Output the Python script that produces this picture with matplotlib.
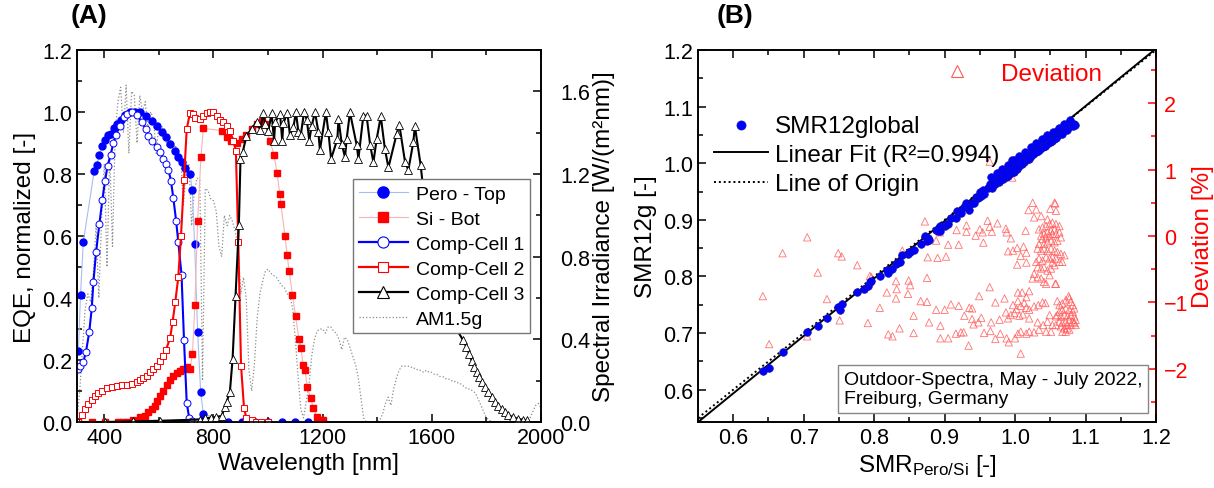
import matplotlib.pyplot as plt
from matplotlib.ticker import MultipleLocator
from matplotlib.lines import Line2D

plt.rcParams["font.family"] = ["Liberation Sans", "DejaVu Sans"]
plt.rcParams["mathtext.default"] = "regular"
plt.rcParams["font.size"] = 15.5

# ---------------- panel A data ----------------
pero_wl = [305, 313, 323, 363, 372, 382, 392, 403, 415, 426, 437, 448, 460, 476, 494,
           512, 531, 553, 574, 592, 610, 626, 641, 659, 671, 683, 696, 714, 722, 731,
           742, 753, 763, 854, 903, 952, 1001, 1050, 1099, 1147, 1200]
pero_eqe = [0.23, 0.41, 0.58, 0.81, 0.83, 0.86, 0.89, 0.91, 0.925, 0.93, 0.95, 0.96, 0.975, 0.99, 1.0,
            1.0, 1.0, 0.986, 0.972, 0.956, 0.935, 0.918, 0.897, 0.875, 0.854, 0.838, 0.818, 0.80, 0.75, 0.573,
            0.29, 0.098, 0.026, 0.0, 0.0, 0.0, 0.0, 0.0, 0.0, 0.0, 0.0]

si_wl = [305, 354, 403, 451, 470, 488, 506, 531, 549, 561, 574, 586, 594, 604, 616, 628, 641, 653,
         665, 677, 690, 702, 714, 723, 732, 742, 754, 763, 830, 848, 866, 885, 903, 921, 940, 958,
         976, 989, 1007, 1022, 1033, 1043, 1047, 1062, 1070, 1077, 1089, 1101, 1113, 1120, 1129,
         1135, 1144, 1156, 1166, 1178, 1190, 1202]
si_eqe = [0.0, 0.0, 0.0, 0.0, 0.0, 0.0, 0.008, 0.015, 0.02, 0.031, 0.042, 0.053, 0.069, 0.085, 0.101,
          0.12, 0.137, 0.148, 0.159, 0.166, 0.171, 0.177, 0.171, 0.22, 0.378, 0.65, 0.854, 0.947, 0.94,
          0.918, 0.905, 0.9, 0.913, 0.926, 0.945, 0.961, 0.972, 0.96, 0.907, 0.861, 0.803, 0.736, 0.703,
          0.6, 0.539, 0.488, 0.411, 0.341, 0.268, 0.238, 0.184, 0.169, 0.112, 0.077, 0.045, 0.016,
          0.008, 0.005]

cc1_wl = [303, 311, 323, 333, 345, 354, 360, 370, 382, 393, 403, 412, 423, 433, 442, 458, 472, 482,
          500, 521, 537, 553, 561, 574, 592, 604, 616, 626, 635, 644, 653, 663, 671, 683, 692, 702,
          711, 720, 740, 760]
cc1_eqe = [0.17, 0.182, 0.193, 0.227, 0.291, 0.367, 0.451, 0.549, 0.639, 0.717, 0.779, 0.827, 0.861,
           0.899, 0.926, 0.956, 0.983, 0.994, 1.0, 0.99, 0.967, 0.945, 0.924, 0.908, 0.886, 0.87, 0.85,
           0.832, 0.814, 0.779, 0.722, 0.65, 0.582, 0.475, 0.265, 0.062, 0.013, 0.004, 0.0, 0.0]

cc2_wl = [305, 317, 329, 341, 354, 366, 378, 390, 409, 427, 445, 464, 482, 500, 519, 531, 543, 555,
          567, 580, 592, 604, 616, 626, 641, 650, 660, 671, 681, 692, 702, 714, 724, 732, 751, 763,
          775, 787, 799, 812, 824, 836, 848, 860, 873, 882, 891, 901, 912, 921, 940, 955, 975, 1000]
cc2_eqe = [0.0, 0.021, 0.042, 0.058, 0.072, 0.085, 0.094, 0.101, 0.109, 0.112, 0.115, 0.118, 0.12,
           0.123, 0.128, 0.134, 0.141, 0.15, 0.16, 0.171, 0.182, 0.198, 0.212, 0.233, 0.27, 0.322,
           0.386, 0.467, 0.6, 0.782, 0.945, 0.997, 0.994, 0.98, 0.977, 0.986, 0.997, 1.0, 0.999,
           0.988, 0.975, 0.967, 0.956, 0.94, 0.907, 0.875, 0.58, 0.182, 0.044, 0.012, 0.005, 0.0,
           0.0, 0.0]

cc3_wl = [305, 404, 506, 604, 750, 770, 790, 810, 830, 842, 848, 860, 870, 881, 893, 899, 907, 921,
          940, 958, 971, 983, 989, 1001, 1013, 1022, 1026, 1044, 1052, 1056, 1071, 1080, 1093, 1102,
          1111, 1120, 1132, 1142, 1151, 1160, 1172, 1184, 1190, 1212, 1221, 1231, 1254, 1258, 1270,
          1282, 1288, 1300, 1325, 1331, 1349, 1361, 1374, 1386, 1398, 1413, 1428, 1441, 1471, 1481,
          1502, 1514, 1532, 1538, 1559, 1575, 1600, 1630, 1660, 1690, 1715, 1727, 1737, 1746, 1755,
          1764, 1774, 1783, 1795, 1807, 1819, 1831, 1844, 1856, 1868, 1880, 1898, 1917, 1935, 1947]
cc3_eqe = [0.0, 0.0, 0.002, 0.004, 0.008, 0.012, 0.014, 0.016, 0.02, 0.048, 0.064, 0.096, 0.203,
           0.408, 0.634, 0.848, 0.87, 0.924, 0.945, 0.969, 0.943, 0.997, 0.961, 0.939, 0.996, 0.908,
           0.967, 0.994, 0.906, 0.964, 0.997, 0.927, 0.951, 1.0, 0.937, 0.927, 1.0, 0.975, 0.908,
           0.956, 1.0, 0.937, 0.878, 1.0, 0.935, 0.849, 0.913, 0.978, 0.897, 0.854, 0.913, 0.999,
           0.892, 0.849, 0.988, 0.988, 0.894, 0.838, 0.913, 0.986, 0.881, 0.821, 0.929, 0.958, 0.838,
           0.813, 0.902, 0.954, 0.829, 0.70, 0.52, 0.42, 0.35, 0.30, 0.263, 0.241, 0.22, 0.198, 0.177,
           0.16, 0.144, 0.128, 0.112, 0.096, 0.08, 0.066, 0.053, 0.042, 0.031, 0.023, 0.015, 0.01,
           0.007, 0.005]

# AM1.5g spectral irradiance [W/(m2 nm)], 300..2000 nm in 10 nm steps
am_wl = list(range(300, 2001, 10))
am_irr = [
    0.01, 0.15, 0.35, 0.55, 0.62, 0.58, 0.72, 0.95, 0.60, 0.98,   # 300
    1.25, 0.75, 1.30, 0.85, 1.40, 1.55, 1.62, 1.40, 1.63, 1.30,   # 400
    1.60, 1.58, 1.35, 1.58, 1.50, 1.55, 1.42, 1.50, 1.47, 1.30,   # 500
    1.45, 1.43, 1.42, 1.33, 1.38, 1.30, 1.34, 1.30, 1.28, 1.05,   # 600
    1.22, 1.25, 0.95, 1.12, 1.18, 1.17, 0.20, 1.13, 1.12, 1.08,   # 700
    1.07, 1.02, 0.85, 0.80, 1.00, 0.95, 1.00, 0.97, 0.92, 0.85,   # 800
    0.62, 0.70, 0.60, 0.25, 0.15, 0.28, 0.50, 0.62, 0.68, 0.73,   # 900
    0.74, 0.72, 0.71, 0.70, 0.68, 0.66, 0.65, 0.62, 0.61, 0.55,   # 1000
    0.40, 0.22, 0.06, 0.02, 0.10, 0.18, 0.32, 0.40, 0.44, 0.45,   # 1100
    0.45, 0.43, 0.46, 0.46, 0.44, 0.43, 0.40, 0.35, 0.41, 0.40,   # 1200
    0.36, 0.32, 0.28, 0.22, 0.12, 0.02, 0.0, 0.0, 0.0, 0.0,       # 1300
    0.0, 0.01, 0.04, 0.09, 0.12, 0.08, 0.16, 0.21, 0.25, 0.27,    # 1400
    0.27, 0.27, 0.27, 0.26, 0.26, 0.25, 0.25, 0.24, 0.25, 0.24,   # 1500
    0.24, 0.23, 0.23, 0.22, 0.22, 0.21, 0.21, 0.20, 0.20, 0.19,   # 1600
    0.19, 0.18, 0.17, 0.16, 0.16, 0.15, 0.14, 0.11, 0.08, 0.05,   # 1700
    0.02, 0.01, 0.0, 0.0, 0.0, 0.0, 0.0, 0.0, 0.0, 0.0,           # 1800
    0.0, 0.0, 0.0, 0.0, 0.0, 0.0, 0.02, 0.05, 0.08, 0.09,         # 1900
    0.07]                                                          # 2000

# ---------------- panel B data ----------------
smr_x = [0.642, 0.651, 0.670, 0.705, 0.720, 0.733, 0.749, 0.751, 0.754, 0.776, 0.785, 0.791, 0.794,
         0.796, 0.808, 0.818, 0.820, 0.826, 0.831, 0.832, 0.836, 0.840, 0.848, 0.849, 0.851, 0.856,
         0.866, 0.872, 0.875, 0.876, 0.878, 0.888, 0.890, 0.893, 0.894, 0.900, 0.902, 0.905, 0.909,
         0.916, 0.917, 0.920, 0.923, 0.928, 0.931, 0.934, 0.935, 0.939, 0.941, 0.944, 0.948, 0.949,
         0.950, 0.952, 0.954, 0.956, 0.962, 0.965, 0.967, 0.970, 0.972, 0.975, 0.977, 0.979, 0.981,
         0.983, 0.985, 0.987, 0.988, 0.990, 0.992, 0.994, 0.996, 0.997, 0.999, 1.001, 1.003, 1.004,
         1.006, 1.008, 1.010, 1.011, 1.013, 1.015, 1.016, 1.018, 1.020, 1.021, 1.023, 1.025, 1.026,
         1.028, 1.030, 1.031, 1.033, 1.034, 1.036, 1.038, 1.039, 1.041, 1.043, 1.044, 1.046, 1.047,
         1.049, 1.050, 1.052, 1.054, 1.055, 1.057, 1.058, 1.060, 1.061, 1.063, 1.064, 1.066, 1.067,
         1.069, 1.070, 1.072, 1.074, 1.076, 1.078, 1.080, 1.082, 1.084, 1.085,
         0.966, 0.974, 0.982, 0.990, 0.998, 1.006, 1.014, 1.022, 1.030, 1.038, 1.046, 1.054, 1.062,
         1.070, 1.078,
         0.970, 0.978, 0.986, 0.994, 1.002, 1.010, 1.018, 1.026, 1.034, 1.042, 1.050, 1.058, 1.066,
         1.074, 1.082]
smr12g = [0.633, 0.638, 0.666, 0.702, 0.713, 0.726, 0.746, 0.741, 0.751, 0.772, 0.778, 0.784, 0.790,
          0.792, 0.800, 0.811, 0.806, 0.813, 0.822, 0.824, 0.825, 0.838, 0.840, 0.843, 0.844, 0.846,
          0.857, 0.872, 0.862, 0.868, 0.865, 0.882, 0.881, 0.890, 0.880, 0.890, 0.893, 0.893, 0.903,
          0.904, 0.916, 0.914, 0.912, 0.922, 0.930, 0.918, 0.926, 0.930, 0.929, 0.940, 0.938, 0.940,
          0.950, 0.943, 0.952, 0.945, 0.957, 0.963, 0.956, 0.968, 0.963, 0.972, 0.966, 0.970, 0.978,
          0.972, 0.980, 0.975, 0.984, 0.978, 0.987, 0.982, 1.005, 0.990, 0.985, 0.996, 0.990, 1.000,
          0.995, 1.004, 0.998, 1.008, 1.002, 1.012, 1.005, 1.015, 1.008, 1.020, 1.013, 1.024, 1.016,
          1.027, 1.019, 1.030, 1.022, 1.033, 1.025, 1.036, 1.029, 1.039, 1.031, 1.042, 1.034, 1.045,
          1.037, 1.047, 1.040, 1.050, 1.043, 1.053, 1.046, 1.057, 1.050, 1.060, 1.053, 1.062, 1.056,
          1.064, 1.058, 1.066, 1.062, 1.068, 1.065, 1.070, 1.067, 1.070, 1.068,
          0.975, 0.982, 0.990, 0.997, 1.005, 1.013, 1.020, 1.028, 1.035, 1.043, 1.049, 1.056, 1.062,
          1.069, 1.076,
          0.963, 0.971, 0.979, 0.986, 0.994, 1.001, 1.009, 1.016, 1.024, 1.031, 1.038, 1.044, 1.051,
          1.058, 1.065]

fit_slope = 1.015
fit_intercept = -0.0155

dev_x = [0.642, 0.651, 0.670, 0.705, 0.705, 0.720, 0.733, 0.749, 0.754, 0.751, 0.776, 0.785, 0.794,
         0.796, 0.791, 0.808, 0.818, 0.820, 0.826, 0.831, 0.832, 0.831, 0.836, 0.840, 0.849, 0.851,
         0.848, 0.856, 0.856, 0.866, 0.875, 0.872, 0.876, 0.875, 0.878,
         0.893, 0.888, 0.905, 0.920, 0.890, 0.902, 0.917, 0.931, 0.931, 0.944, 0.950, 0.961, 0.964,
         0.954, 0.967, 0.975, 0.955, 0.987, 0.988, 0.994, 1.015, 0.990, 0.997, 1.003, 1.012, 1.016,
         1.008, 1.003, 1.016, 1.025, 1.019, 1.030, 1.027, 1.037, 1.046, 1.050, 1.057, 1.058, 0.964,
         0.997, 0.996, 1.056,
         1.034, 1.039, 1.044, 1.049, 1.053, 1.058, 1.063, 1.056, 1.051, 1.046, 1.041, 1.037, 1.039,
         1.044, 1.049, 1.053, 1.058, 1.063, 1.065, 1.060, 1.056, 1.051, 1.046, 1.041, 1.034, 1.032,
         1.037, 1.041, 1.046, 1.051, 1.056, 1.060, 1.065, 1.070, 1.067, 1.063, 1.058, 1.053, 1.049,
         1.044, 1.039, 1.034, 1.030, 1.032, 1.037, 1.041, 1.046, 1.051, 1.056, 1.027, 1.032, 1.025,
         1.037, 1.041, 1.044, 1.058, 1.049, 1.053,
         0.964, 0.949, 0.888, 0.900, 0.909, 0.920, 0.935, 0.939, 0.894, 0.894, 0.905, 0.916, 0.923,
         0.927, 0.928, 0.939, 0.941, 0.948, 0.952, 0.934, 0.956, 0.965, 0.966, 0.972, 0.978, 0.972,
         0.979, 0.985, 0.987, 0.994, 0.991, 0.988, 1.000, 1.004, 1.008, 1.016, 1.020, 1.027, 1.008,
         0.997, 1.004, 1.002, 1.008, 1.013, 1.016, 1.020, 1.027, 1.033, 1.039, 1.043, 1.004, 1.010,
         1.016, 1.020, 1.006, 0.990, 0.999, 1.011, 1.020, 1.032, 1.040, 1.046, 1.053, 1.051, 1.049,
         1.034, 1.044, 1.058, 1.076, 1.060, 1.074, 1.057,
         1.063, 1.067, 1.072, 1.077, 1.079, 1.082, 1.084, 1.082, 1.077, 1.072, 1.067, 1.063, 1.060,
         1.065, 1.070, 1.074, 1.079, 1.084, 1.086, 1.082, 1.077, 1.072, 1.067, 1.063, 1.058, 1.065,
         1.070, 1.074, 1.079, 1.084, 1.086, 1.077, 1.072, 1.067]
dev_y = [-0.905, -1.627, -0.259, -0.02, -1.51, -0.55, -0.95, -0.259, -0.308, -1.27, -0.44, -0.80, -0.60,
         -0.62, -1.31, -1.08, -0.85, -1.48, -1.51, -0.68, -0.80, -0.94, -1.39, -0.22, -0.67, -0.74,
         -0.87, -1.20, -1.46, -0.98, -0.99, 0.22, -0.32, -0.63, -1.30,
         0.055, -0.07, -0.13, -0.13, -0.33, -0.31, 0.09, 0.16, 0.065, 0.005, 0.10, 0.23, 0.14,
         0.055, 0.065, 0.19, -0.10, 0.11, 0.055, -0.035, 0.08, -0.23, -0.22, -0.18, -0.16, -0.25,
         -0.30, -0.43, -0.40, 0.50, 0.39, 0.40, 0.28, 0.30, 0.25, 0.41, 0.49, 0.38, 1.12,
         0.97, 0.88, 0.50,
         0.10, 0.13, 0.15, 0.18, 0.20, 0.18, 0.15, 0.10, 0.08, 0.055, 0.03, 0.005, -0.045,
         -0.02, 0.005, 0.03, 0.03, 0.055, -0.02, -0.07, -0.095, -0.07, -0.095, -0.12, -0.12, -0.19,
         -0.22, -0.19, -0.22, -0.19, -0.22, -0.24, -0.27, -0.29, -0.39, -0.39, -0.34, -0.32, -0.34,
         -0.32, -0.37, -0.34, -0.39, -0.47, -0.49, -0.47, -0.52, -0.49, -0.44, -0.57, -0.62, -0.64,
         -0.64, -0.69, -0.72, -0.72, -0.59, -0.40,
         -0.77, -0.905, -1.11, -1.11, -1.03, -1.05, -1.08, -1.09, -1.35, -1.54, -1.54, -1.47, -1.45,
         -1.45, -1.20, -1.25, -1.33, -1.30, -1.23, -1.65, -1.46, -1.43, -1.30, -1.00, -1.26, -1.55,
         -1.47, -0.94, -1.15, -1.19, -1.60, -1.54, -1.54, -1.47, -1.44, -1.47, -1.44, -1.45, -1.77,
         -1.04, -0.98, -1.10, -1.05, -1.01, -1.08, -1.11, -1.06, -1.04, -1.00, -1.01, -0.85, -0.85,
         -0.92, -0.83, -1.20, -1.24, -1.16, -1.18, -1.24, -1.30, -1.34, -1.29, -1.34, -1.44, -1.19,
         -1.41, -1.44, -1.21, -0.905, -0.98, -1.39, -0.72,
         -1.04, -1.015, -0.965, -0.94, -0.99, -1.04, -1.09, -1.14, -1.11, -1.09, -1.11, -1.14, -1.19,
         -1.21, -1.19, -1.21, -1.19, -1.21, -1.26, -1.29, -1.26, -1.29, -1.31, -1.29, -1.34, -1.36,
         -1.39, -1.34, -1.34, -1.31, -1.34, -1.41, -1.44, -1.44]

W, H = 1214, 489
fig = plt.figure(figsize=(W / 100, H / 100), dpi=100)


def style_ticks(ax, **kw):
    ax.tick_params(which="both", direction="in", width=1.1, **kw)
    ax.tick_params(which="major", length=6)
    ax.tick_params(which="minor", length=3.5)
    for sp in ax.spines.values():
        sp.set_linewidth(1.2)


# ---------------- panel A ----------------
axA = fig.add_axes([77 / W, 66 / H, 464 / W, 372 / H])
axA2 = axA.twinx()
axA2.plot(am_wl, am_irr, color="#8c8c8c", lw=0.9, ls=":")
axA.set_zorder(axA2.get_zorder() + 1)
axA.patch.set_visible(False)

axA.plot(pero_wl, pero_eqe, color="#a9bdf2", lw=0.8, marker="o", ms=5, mfc="blue", mec="blue")
axA.plot(si_wl, si_eqe, color="#f6b4b4", lw=0.8, marker="s", ms=4.5, mfc="red", mec="red")
axA.plot(cc1_wl, cc1_eqe, color="blue", lw=1.5, marker="o", ms=5, mfc="white", mec="blue", mew=0.7)
axA.plot(cc2_wl, cc2_eqe, color="red", lw=1.5, marker="s", ms=5, mfc="white", mec="red", mew=0.7)
axA.plot(cc3_wl, cc3_eqe, color="black", lw=1.5, marker="^", ms=5.5, mfc="white", mec="black", mew=0.6)

axA.set_xlim(300, 2000)
axA.set_ylim(0, 1.2)
axA2.set_ylim(0, 1.8)
axA.xaxis.set_major_locator(MultipleLocator(400))
axA.xaxis.set_minor_locator(MultipleLocator(200))
axA.yaxis.set_major_locator(MultipleLocator(0.2))
axA.yaxis.set_minor_locator(MultipleLocator(0.1))
axA2.yaxis.set_major_locator(MultipleLocator(0.4))
axA2.yaxis.set_minor_locator(MultipleLocator(0.2))
style_ticks(axA, top=True, right=False)
style_ticks(axA2, right=True)
axA2.tick_params(axis="y", pad=14)
axA.set_xlabel("Wavelength [nm]", fontsize=17.5, labelpad=3)
axA.set_ylabel("EQE, normalized [-]", fontsize=17.5, labelpad=4)
axA2.set_ylabel("Spectral Irradiance [W/(m²nm)]", fontsize=17.5, labelpad=2)

handlesA = [
    Line2D([], [], color="#a9bdf2", lw=0.8, marker="o", ms=8, mfc="blue", mec="blue"),
    Line2D([], [], color="#f6b4b4", lw=0.8, marker="s", ms=7.5, mfc="red", mec="red"),
    Line2D([], [], color="blue", lw=1.6, marker="o", ms=8, mfc="white", mec="blue", mew=0.8),
    Line2D([], [], color="red", lw=1.6, marker="s", ms=7.5, mfc="white", mec="red", mew=0.8),
    Line2D([], [], color="black", lw=1.6, marker="^", ms=8.5, mfc="white", mec="black", mew=0.8),
    Line2D([], [], color="#8c8c8c", lw=0.9, ls=":"),
]
labelsA = ["Pero - Top", "Si - Bot", "Comp-Cell 1", "Comp-Cell 2", "Comp-Cell 3", "AM1.5g"]
legA = axA.legend(handlesA, labelsA, loc="upper left", bbox_to_anchor=(0.595, 0.653),
                  borderaxespad=0, fontsize=14, frameon=True, fancybox=False,
                  edgecolor="#777777", handlelength=2.5, handletextpad=0.45,
                  labelspacing=0.38, borderpad=0.3)
legA.get_frame().set_linewidth(1.0)
legA.get_frame().set_alpha(1)

fig.text(89 / W, 1 - 16 / H, "(A)", fontsize=19, fontweight="bold", ha="center", va="center")

# ---------------- panel B ----------------
axB = fig.add_axes([698 / W, 66 / H, 458 / W, 372 / H])
axB2 = axB.twinx()
axB2.scatter(dev_x, dev_y, marker="^", s=28, facecolors="none", edgecolors="#ff5a5a",
             linewidths=0.6, alpha=0.85)
axB.set_zorder(axB2.get_zorder() + 1)
axB.patch.set_visible(False)

xl = (0.55, 1.2)
axB.plot(xl, [fit_slope * v + fit_intercept for v in xl], color="black", lw=1.4,
         label="Linear Fit (R²=0.994)", zorder=3)
axB.plot(xl, xl, color="black", lw=1.4, ls=(0, (1, 1.5)), label="Line of Origin", zorder=3)
axB.scatter(smr_x, smr12g, s=30, color="blue", edgecolors="#1010b0", linewidths=0.5,
            label="SMR12global", zorder=4)

axB.set_xlim(*xl)
axB.set_ylim(0.543, 1.2)
axB2.set_ylim(-2.8, 2.8)
axB.xaxis.set_major_locator(MultipleLocator(0.1))
axB.xaxis.set_minor_locator(MultipleLocator(0.05))
axB.yaxis.set_major_locator(MultipleLocator(0.1))
axB.yaxis.set_minor_locator(MultipleLocator(0.05))
axB2.yaxis.set_major_locator(MultipleLocator(1))
axB2.yaxis.set_minor_locator(MultipleLocator(0.5))
style_ticks(axB, top=True, right=False)
style_ticks(axB2, right=True, colors="red")
axB2.tick_params(axis="y", pad=6)
axB2.spines["right"].set_color("red")
axB.set_xlabel("SMR$_{Pero/Si}$ [-]", fontsize=17.5, labelpad=3)
axB.set_ylabel("SMR12g [-]", fontsize=17.5, labelpad=4)
axB2.set_ylabel("Deviation [%]", fontsize=17.5, color="red", labelpad=2)

h, l = axB.get_legend_handles_labels()
order = [2, 0, 1]
legB = axB.legend([h[i] for i in order], [l[i] for i in order], loc="upper left",
                  bbox_to_anchor=(-0.012, 0.885), frameon=False, fontsize=17.5,
                  handlelength=2.2, handletextpad=0.3, labelspacing=0.3, markerscale=1.2)
axB.add_artist(legB)

tri = Line2D([], [], ls="none", marker="^", ms=8, mfc="none", mec="#ff5a5a", mew=0.8)
axB.legend([tri], ["Deviation"], loc="upper right", bbox_to_anchor=(0.93, 1.025),
           frameon=False, fontsize=17.5, labelcolor="red", handletextpad=0.8)

axB.text(0.318, 0.05, "Outdoor-Spectra, May - July 2022,\nFreiburg, Germany",
         transform=axB.transAxes, fontsize=14, linespacing=1.2,
         bbox=dict(boxstyle="square,pad=0.3", fc="white", ec="#888888", lw=1.0))

fig.text(735 / W, 1 - 16 / H, "(B)", fontsize=19, fontweight="bold", ha="center", va="center")

fig.savefig("out.png", dpi=100)
